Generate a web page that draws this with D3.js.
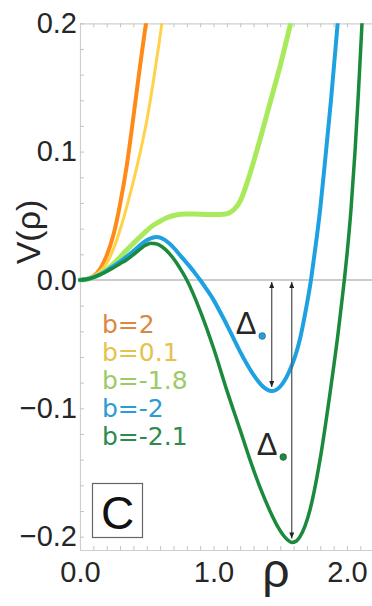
<!DOCTYPE html>
<html>
<head>
<meta charset="utf-8">
<script src="https://cdn.jsdelivr.net/npm/d3@7"></script>
<style>
  html, body { margin: 0; padding: 0; background: #fff; }
  svg { display: block; }
</style>
</head>
<body>
<script>
// Potential V(rho) for five values of the parameter b
const bLabels = ["b=2", "b=0.1", "b=-1.8", "b=-2", "b=-2.1"];

const rhoB2 = [0, 0.05, 0.1, 0.15, 0.2, 0.25, 0.3, 0.35, 0.4, 0.45, 0.494, 0.52];
const vB2   = [0, 0.0008, 0.003, 0.0085, 0.019, 0.035, 0.059, 0.089, 0.127, 0.167, 0.2, 0.219];

const rhoB01 = [0, 0.05, 0.1, 0.15, 0.2, 0.25, 0.3, 0.35, 0.4, 0.45, 0.5, 0.55, 0.6, 0.64];
const vB01   = [0, 0.0007, 0.0028, 0.0065, 0.013, 0.024, 0.039, 0.057, 0.077, 0.099, 0.124, 0.155, 0.19, 0.22];

const rhoBm18 = [0, 0.05, 0.1, 0.15, 0.2, 0.25, 0.3, 0.345, 0.4, 0.47, 0.53, 0.594, 0.65, 0.719, 0.79, 0.85, 0.95, 1.05, 1.1, 1.15, 1.2, 1.25, 1.3, 1.35, 1.4, 1.45, 1.5, 1.55, 1.573, 1.6];
const vBm18   = [0, 0.0005, 0.002, 0.0045, 0.008, 0.0125, 0.0177, 0.0228, 0.0285, 0.0355, 0.0412, 0.0454, 0.0485, 0.0506, 0.0514, 0.0514, 0.0511, 0.0511, 0.0516, 0.0545, 0.0615, 0.0752, 0.092, 0.110, 0.129, 0.148, 0.167, 0.188, 0.198, 0.211];

const rhoBm2 = [0, 0.05, 0.1, 0.15, 0.2, 0.25, 0.3, 0.35, 0.4, 0.45, 0.5, 0.54, 0.57, 0.61, 0.67, 0.72, 0.77, 0.82, 0.87, 0.9, 0.95, 1.0, 1.05, 1.1, 1.15, 1.2, 1.25, 1.3, 1.36, 1.4, 1.436, 1.5, 1.56, 1.61, 1.65, 1.685, 1.73, 1.75, 1.8, 1.835, 1.88, 1.93, 1.96];
const vBm2   = [0, 0.0005, 0.002, 0.0043, 0.0073, 0.0107, 0.0143, 0.0182, 0.0225, 0.0272, 0.031, 0.0328, 0.0335, 0.0327, 0.0285, 0.023, 0.0168, 0.0108, 0.0042, 0, -0.0075, -0.0155, -0.025, -0.035, -0.0455, -0.056, -0.0655, -0.074, -0.082, -0.0853, -0.0866, -0.083, -0.073, -0.060, -0.045, -0.027, 0, 0.015, 0.056, 0.092, 0.14, 0.2, 0.235];

const rhoBm21 = [0, 0.05, 0.1, 0.15, 0.2, 0.25, 0.3, 0.35, 0.4, 0.45, 0.49, 0.53, 0.57, 0.62, 0.67, 0.72, 0.77, 0.8, 0.9, 1.0, 1.1, 1.2, 1.273, 1.35, 1.423, 1.48, 1.52, 1.555, 1.586, 1.62, 1.648, 1.723, 1.798, 1.873, 1.935, 1.96, 1.98, 2.0, 2.03, 2.06, 2.085, 2.11, 2.14];
const vBm21   = [0, 0.0005, 0.002, 0.0041, 0.0066, 0.0095, 0.0127, 0.0158, 0.0197, 0.024, 0.027, 0.0286, 0.0282, 0.0255, 0.0205, 0.0138, 0.0055, 0, -0.024, -0.053, -0.086, -0.117, -0.140, -0.162, -0.180, -0.192, -0.1985, -0.2025, -0.2045, -0.2035, -0.200, -0.179, -0.140, -0.088, -0.040, -0.018, 0, 0.02, 0.055, 0.1, 0.145, 0.195, 0.26];

const curveColors  = ["#ff8a17", "#ffd24a", "#a9ea5c", "#1ea1e1", "#1b8a3c"];
const legendColors = ["#db873f", "#e4c24c", "#9ccb66", "#2c9bd2", "#2e8a4c"];
const curveWidths  = [4, 3, 5, 4, 3.5];

const xTickValues = [0, 1, 2];
const xTickLabels = ["0.0", "1.0", "2.0"];
const yTickValues = [-0.2, -0.1, 0, 0.1, 0.2];
const yTickLabels = ["\u22120.2", "\u22120.1", "0.0", "0.1", "0.2"];

const series = [
  { rho: rhoB2,   v: vB2 },
  { rho: rhoB01,  v: vB01 },
  { rho: rhoBm18, v: vBm18 },
  { rho: rhoBm2,  v: vBm2 },
  { rho: rhoBm21, v: vBm21 }
];

const W = 372, H = 606;
const svg = d3.select("body").append("svg").attr("width", W).attr("height", H)
  .style("font-family", "'Liberation Sans', Arial, sans-serif");

const x = d3.scaleLinear().domain([0, 2.2]).range([80, 373.7]);
const y = d3.scaleLinear().domain([-0.2104, 0.2]).range([550, 23.3]);

const frameColor = "#cfcfcf";
const textColor = "#262626";

// minor ticks on the frame
const xMinor = d3.range(0, 2.21, 0.1);
const yMinor = d3.range(-0.2, 0.201, 0.02);

function styleFrame(g) {
  g.select(".domain").attr("stroke", frameColor).attr("stroke-width", 1.2);
  g.selectAll(".tick line").attr("stroke", "#c4c4c4").attr("stroke-width", 1);
}

svg.append("g").attr("transform", `translate(0,${y(-0.2104)})`)
  .call(d3.axisBottom(x).tickValues(xMinor).tickSize(-4).tickSizeOuter(0).tickFormat(""))
  .call(styleFrame);
svg.append("g").attr("transform", `translate(0,${y(0.2)})`)
  .call(d3.axisTop(x).tickValues(xMinor).tickSize(-4).tickSizeOuter(0).tickFormat(""))
  .call(styleFrame);
svg.append("g").attr("transform", `translate(${x(0)},0)`)
  .call(d3.axisLeft(y).tickValues(yMinor).tickSize(-4).tickSizeOuter(0).tickFormat(""))
  .call(styleFrame);

// tick labels
const xLab = svg.append("g").attr("transform", `translate(0,${y(-0.2104)})`)
  .call(d3.axisBottom(x).tickValues(xTickValues).tickSize(0).tickPadding(11)
    .tickFormat((d, i) => xTickLabels[i]));
xLab.select(".domain").remove();
xLab.selectAll("text").attr("font-size", 29).attr("fill", textColor)
  .attr("font-family", "'Liberation Sans', Arial, sans-serif");

const yLab = svg.append("g").attr("transform", `translate(${x(0)},0)`)
  .call(d3.axisLeft(y).tickValues(yTickValues).tickSize(0).tickPadding(3)
    .tickFormat((d, i) => yTickLabels[i]));
yLab.select(".domain").remove();
yLab.selectAll("text").attr("font-size", 29).attr("fill", textColor)
  .attr("font-family", "'Liberation Sans', Arial, sans-serif");

// zero line
svg.append("line")
  .attr("x1", x(0)).attr("x2", x(2.2))
  .attr("y1", y(0)).attr("y2", y(0))
  .attr("stroke", "#9a9a9a").attr("stroke-width", 1.2);

// curves
svg.append("clipPath").attr("id", "plotClip")
  .append("rect").attr("x", x(0) - 3).attr("y", y(0.2)).attr("width", x(2.2) - x(0) + 3).attr("height", y(-0.2104) - y(0.2));

const line = d3.line().x(d => x(d[0])).y(d => y(d[1])).curve(d3.curveMonotoneX);
const curves = svg.append("g").attr("clip-path", "url(#plotClip)");
series.forEach((s, i) => {
  const pts = s.rho.map((r, k) => [r, s.v[k]]);
  curves.append("path").datum(pts)
    .attr("d", line)
    .attr("fill", "none")
    .attr("stroke", curveColors[i])
    .attr("stroke-width", curveWidths[i])
    .attr("stroke-linejoin", "round")
    .attr("stroke-linecap", "round");
});

// depth arrows from V=0 down to each minimum
const defs = svg.append("defs");
defs.append("marker").attr("id", "arrowHead")
  .attr("viewBox", "0 0 10 10").attr("refX", 10).attr("refY", 5)
  .attr("markerWidth", 6).attr("markerHeight", 5)
  .attr("markerUnits", "userSpaceOnUse")
  .attr("preserveAspectRatio", "none")
  .attr("orient", "auto-start-reverse")
  .append("path").attr("d", "M0,0 L10,5 L0,10 z").attr("fill", "#222");

function minOf(s) {
  const k = d3.minIndex(s.v);
  return { rho: s.rho[k], v: s.v[k] };
}
const depthSeries = [3, 4];
const deltaOffsets = [{ dx: -36, dy: 334 }, { dx: -35, dy: 455 }];
depthSeries.forEach((si, j) => {
  const m = minOf(series[si]);
  const ax = x(m.rho);
  svg.append("line")
    .attr("x1", ax).attr("x2", ax)
    .attr("y1", y(0) + 2).attr("y2", y(m.v) - 4)
    .attr("stroke", "#5a5a5a").attr("stroke-width", 1.3)
    .attr("marker-start", "url(#arrowHead)")
    .attr("marker-end", "url(#arrowHead)");
  const tx = ax + deltaOffsets[j].dx;
  const ty = deltaOffsets[j].dy;
  svg.append("text").attr("x", tx).attr("y", ty)
    .attr("font-size", 31).attr("fill", textColor).text("\u0394");
  svg.append("circle").attr("cx", tx + 26.5).attr("cy", ty + 2).attr("r", 3.4)
    .attr("fill", curveColors[si]).attr("stroke", "#333").attr("stroke-width", 0.4);
});

// legend
const legend = svg.append("g").attr("font-family", "'DejaVu Sans', sans-serif").attr("font-size", 25);
bLabels.forEach((t, i) => {
  legend.append("text").attr("x", 102).attr("y", 333 + i * 28)
    .attr("fill", legendColors[i]).text(t);
});

// panel label
svg.append("rect").attr("x", 92.5).attr("y", 483.5).attr("width", 50).attr("height", 54)
  .attr("fill", "#fff").attr("stroke", "#666").attr("stroke-width", 1.2);
svg.append("text").attr("x", 117.5).attr("y", 529).attr("text-anchor", "middle")
  .attr("font-size", 46).attr("fill", "#111").text("C");

// axis titles
svg.append("text").attr("x", 276).attr("y", 587).attr("text-anchor", "middle")
  .attr("font-size", 48).attr("fill", textColor).text("\u03c1");
svg.append("text").attr("transform", "translate(40,232) rotate(-90)")
  .attr("text-anchor", "middle").attr("font-size", 34).attr("fill", textColor).text("V(\u03c1)");
</script>
</body>
</html>
